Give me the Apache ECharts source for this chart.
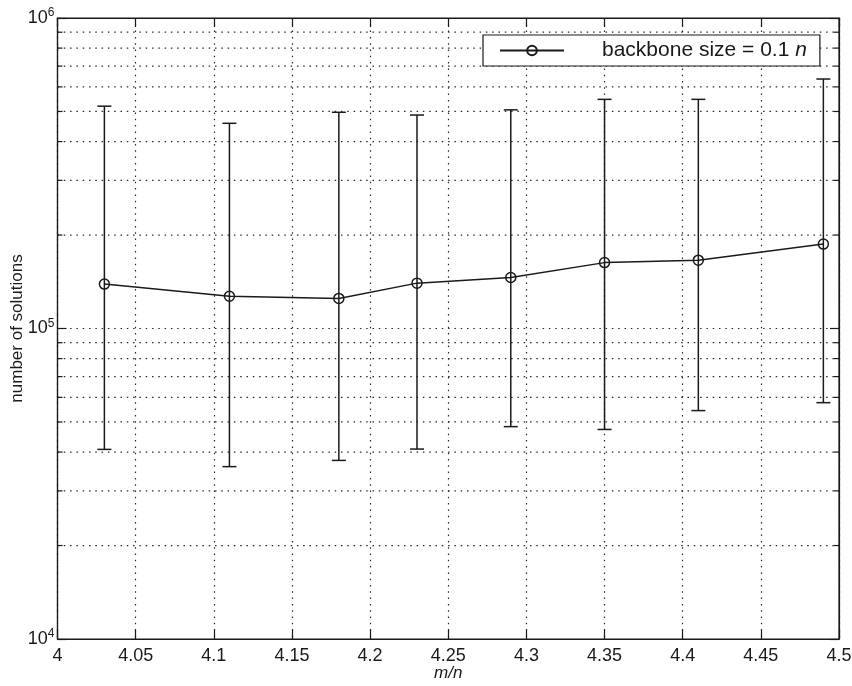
<!DOCTYPE html>
<html>
<head>
<meta charset="utf-8">
<script src="https://cdn.jsdelivr.net/npm/echarts@6/dist/echarts.min.js"></script>
<style>
  html, body { margin: 0; padding: 0; background: #ffffff; }
  #chart { width: 852px; height: 686px; }
</style>
</head>
<body>
<div id="chart"></div>
<script>
// clause-to-variable ratio m/n
const ratios = [4.03, 4.11, 4.18, 4.23, 4.29, 4.35, 4.41, 4.49];
// mean number of solutions
const solutions = [1.39e5, 1.27e5, 1.25e5, 1.40e5, 1.46e5, 1.63e5, 1.66e5, 1.87e5];
// error bar ends
const upperBound = [5.20e5, 4.58e5, 4.97e5, 4.87e5, 5.06e5, 5.47e5, 5.47e5, 6.36e5];
const lowerBound = [4.08e4, 3.59e4, 3.76e4, 4.09e4, 4.83e4, 4.73e4, 5.44e4, 5.77e4];
// log-axis minor grid values
const minorGrid = [2e4, 3e4, 4e4, 5e4, 6e4, 7e4, 8e4, 9e4, 2e5, 3e5, 4e5, 5e5, 6e5, 7e5, 8e5, 9e5];

const X_MIN = 4, X_MAX = 4.5;
const FONT = '"Liberation Sans", Arial, Helvetica, sans-serif';
const INK = '#1a1a1a';
const dotted = { color: '#2a2a2a', width: 1.2, type: [1.5, 4.8] };

const chart = echarts.init(document.getElementById('chart'));

const yLabel = {
  fontFamily: FONT, fontSize: 18, color: INK, margin: 3,
  formatter: v => '10{s|' + Math.round(Math.log10(v)) + '}',
  rich: { s: { fontFamily: FONT, fontSize: 12, color: INK, verticalAlign: 'bottom', padding: [0, 0, 10, 0] } }
};

chart.setOption({
  animation: false,
  backgroundColor: '#ffffff',
  grid: {
    left: 57.5, right: 13, top: 18, bottom: 47,
    outerBoundsMode: 'none', containLabel: false,
    show: true, borderColor: INK, borderWidth: 1.2
  },
  legend: {
    left: 483, top: 35,
    padding: [5, 13, 5, 16],
    backgroundColor: '#ffffff',
    borderColor: INK, borderWidth: 1.2, borderRadius: 0,
    itemWidth: 64, itemHeight: 12,
    data: ['backbone size = 0.1 n'],
    formatter: () => '{g|}backbone size = 0.1 {i|n}',
    textStyle: {
      fontFamily: FONT, fontSize: 21, color: INK,
      rich: {
        g: { width: 33 },
        i: { fontFamily: FONT, fontSize: 21, fontStyle: 'italic', color: INK }
      }
    }
  },
  xAxis: [{
    type: 'value', min: X_MIN, max: X_MAX, interval: 0.05,
    name: 'm/n', nameLocation: 'middle', nameGap: 26, nameMoveOverlap: false,
    nameTextStyle: { fontFamily: FONT, fontSize: 17, fontStyle: 'italic', color: INK },
    axisLine: { show: true, onZero: false, lineStyle: { color: INK, width: 1.2 } },
    axisTick: { show: true, inside: true, length: 9, lineStyle: { color: INK, width: 1.2 } },
    axisLabel: { fontFamily: FONT, fontSize: 18, color: INK, margin: 8 },
    splitLine: { show: true, lineStyle: dotted }
  }, {
    type: 'value', position: 'top', min: X_MIN, max: X_MAX, interval: 0.05,
    axisLine: { show: true, onZero: false, lineStyle: { color: INK, width: 1.2 } },
    axisTick: { show: true, inside: true, length: 9, lineStyle: { color: INK, width: 1.2 } },
    axisLabel: { show: false }, splitLine: { show: false }
  }],
  yAxis: [{
    type: 'log', logBase: 10, min: 1e4, max: 1e6,
    name: 'number of solutions', nameLocation: 'middle', nameGap: 32, nameMoveOverlap: false,
    nameTextStyle: { fontFamily: FONT, fontSize: 17, color: INK },
    axisLine: { show: true, onZero: false, lineStyle: { color: INK, width: 1.2 } },
    axisTick: { show: true, inside: true, length: 9, lineStyle: { color: INK, width: 1.2 } },
    axisLabel: yLabel,
    splitLine: { show: true, lineStyle: dotted }
  }, {
    type: 'log', logBase: 10, min: 1e4, max: 1e6, position: 'right',
    axisLine: { show: true, onZero: false, lineStyle: { color: INK, width: 1.2 } },
    axisTick: { show: true, inside: true, length: 9, lineStyle: { color: INK, width: 1.2 } },
    axisLabel: { show: false }, splitLine: { show: false }
  }],
  series: [{
    // minor log gridlines with short inward ticks on both vertical axes
    type: 'custom', silent: true, z: 1,
    data: minorGrid.map(v => [v]),
    renderItem: (params, api) => {
      const v = api.value(0);
      const a = api.coord([X_MIN, v]);
      const b = api.coord([X_MAX, v]);
      return {
        type: 'group',
        children: [
          { type: 'line', shape: { x1: a[0], y1: a[1], x2: b[0], y2: b[1] }, style: { stroke: dotted.color, lineWidth: dotted.width, lineDash: dotted.type } },
          { type: 'line', shape: { x1: a[0], y1: a[1], x2: a[0] + 5, y2: a[1] }, style: { stroke: INK, lineWidth: 1.2 } },
          { type: 'line', shape: { x1: b[0] - 5, y1: b[1], x2: b[0], y2: b[1] }, style: { stroke: INK, lineWidth: 1.2 } }
        ]
      };
    }
  }, {
    // vertical error bars with caps
    type: 'custom', silent: true, z: 3,
    data: ratios.map((x, i) => [x, lowerBound[i], upperBound[i]]),
    renderItem: (params, api) => {
      const lo = api.coord([api.value(0), api.value(1)]);
      const hi = api.coord([api.value(0), api.value(2)]);
      const cap = 7;
      const st = { stroke: INK, lineWidth: 1.5 };
      return {
        type: 'group',
        children: [
          { type: 'line', shape: { x1: lo[0], y1: lo[1], x2: hi[0], y2: hi[1] }, style: st },
          { type: 'line', shape: { x1: lo[0] - cap, y1: lo[1], x2: lo[0] + cap, y2: lo[1] }, style: st },
          { type: 'line', shape: { x1: hi[0] - cap, y1: hi[1], x2: hi[0] + cap, y2: hi[1] }, style: st }
        ]
      };
    }
  }, {
    name: 'backbone size = 0.1 n',
    type: 'line', z: 4,
    data: ratios.map((x, i) => [x, solutions[i]]),
    symbol: 'circle', symbolSize: 10,
    itemStyle: { color: 'rgba(255,255,255,0)', borderColor: INK, borderWidth: 1.5 },
    lineStyle: { color: INK, width: 1.5 }
  }]
});
</script>
</body>
</html>
